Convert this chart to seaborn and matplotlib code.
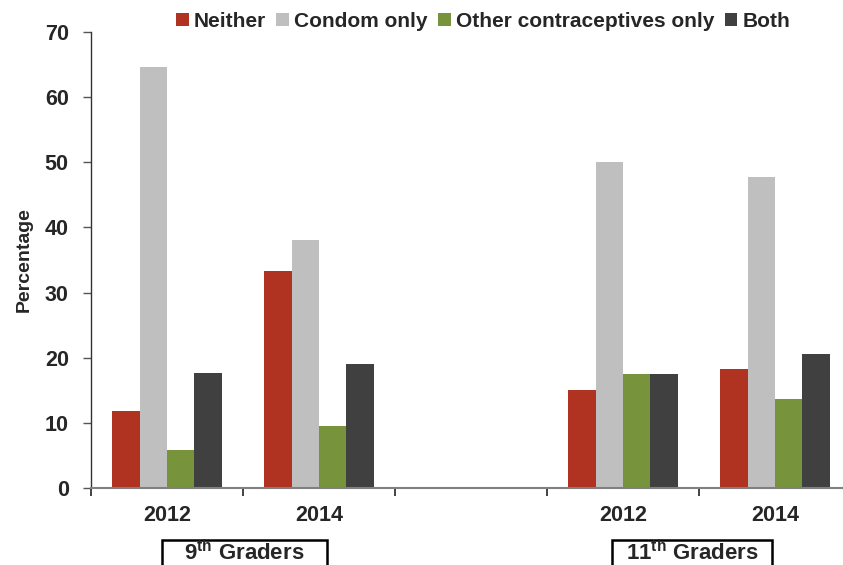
import numpy as np
import pandas as pd
import matplotlib
matplotlib.use("Agg")
import matplotlib.pyplot as plt
import seaborn as sns
from matplotlib.patches import Rectangle, Patch

# data
slots = ["9th 2012", "9th 2014", "gap", "11th 2012", "11th 2014"]
slot_labels = ["2012", "2014", "", "2012", "2014"]
methods = ["Neither", "Condom only", "Other contraceptives only", "Both"]
colors = ["#B03220", "#BFBFBF", "#77933C", "#404040"]

neither = [11.8, 33.3, 15.0, 18.2]
condom_only = [64.6, 38.1, 50.0, 47.7]
other_only = [5.9, 9.5, 17.5, 13.6]
both = [17.7, 19.1, 17.5, 20.5]
groups = ["9th 2012", "9th 2014", "11th 2012", "11th 2014"]

rows = []
for vals, m in zip([neither, condom_only, other_only, both], methods):
    for g, v in zip(groups, vals):
        rows.append({"slot": g, "method": m, "pct": v})
df = pd.DataFrame(rows)

sns.set_style("white")
plt.rcParams["font.family"] = ["Liberation Sans", "DejaVu Sans"]
plt.rcParams["font.weight"] = "bold"
plt.rcParams["mathtext.fontset"] = "custom"
plt.rcParams["mathtext.rm"] = "Liberation Sans:bold"
plt.rcParams["mathtext.it"] = "Liberation Sans:bold"
plt.rcParams["mathtext.bf"] = "Liberation Sans:bold"

fig = plt.figure(figsize=(8.43, 5.65), dpi=100)
ax = fig.add_axes([91 / 843, 77 / 565, 760 / 843, 456 / 565])

sns.barplot(data=df, x="slot", y="pct", hue="method", order=slots,
            hue_order=methods, palette=colors, width=0.72, saturation=1,
            edgecolor="none", linewidth=0, ax=ax, legend=False)

ax.set_xlim(-0.5, 4.5)
ax.set_ylim(0, 70)
ax.set_yticks(np.arange(0, 71, 10))
ax.set_xticks(range(len(slots)))
ax.set_xticklabels(slot_labels, fontsize=15.5, fontweight="bold")
ax.set_xticks(np.arange(-0.5, 4.6, 1), minor=True)
ax.tick_params(axis="x", which="major", length=0, pad=12)
ax.tick_params(axis="x", which="minor", length=6, width=1.2, color="#222222",
               direction="out", bottom=True)
ax.tick_params(axis="y", length=6, width=1, color="#555555", direction="out",
               left=True, labelsize=15.5, pad=10)
for lab in ax.get_yticklabels():
    lab.set_fontweight("bold")
ax.set_xlabel("")
ax.set_ylabel("Percentage", fontsize=14, fontweight="bold", labelpad=9)

sns.despine(ax=ax)
ax.spines["left"].set_color("#333333")
ax.spines["left"].set_linewidth(1)
ax.spines["bottom"].set_color("#808080")
ax.spines["bottom"].set_linewidth(1.5)

handles = [Patch(facecolor=c, edgecolor="none", label=m) for c, m in zip(colors, methods)]
fig.legend(handles=handles, loc="center", bbox_to_anchor=(0.573, 0.962), ncol=4,
           frameon=False, handlelength=0.6, handleheight=0.6,
           handletextpad=0.25, columnspacing=0.5, prop={"weight": "bold", "size": 15})

# grade boxes under the year labels
for x0, x1, txt in [(162, 327, r"9$^{\mathrm{th}}$ Graders"),
                    (612, 772, r"11$^{\mathrm{th}}$ Graders")]:
    fig.add_artist(Rectangle((x0 / 843, -0.05), (x1 - x0) / 843, 0.05 + 25 / 565,
                             transform=fig.transFigure, fill=False,
                             edgecolor="black", linewidth=1.8))
    fig.text((x0 + x1) / 2 / 843, 12 / 565, txt, ha="center", va="center",
             fontsize=16, fontweight="bold")

fig.savefig("out.png", dpi=100)
